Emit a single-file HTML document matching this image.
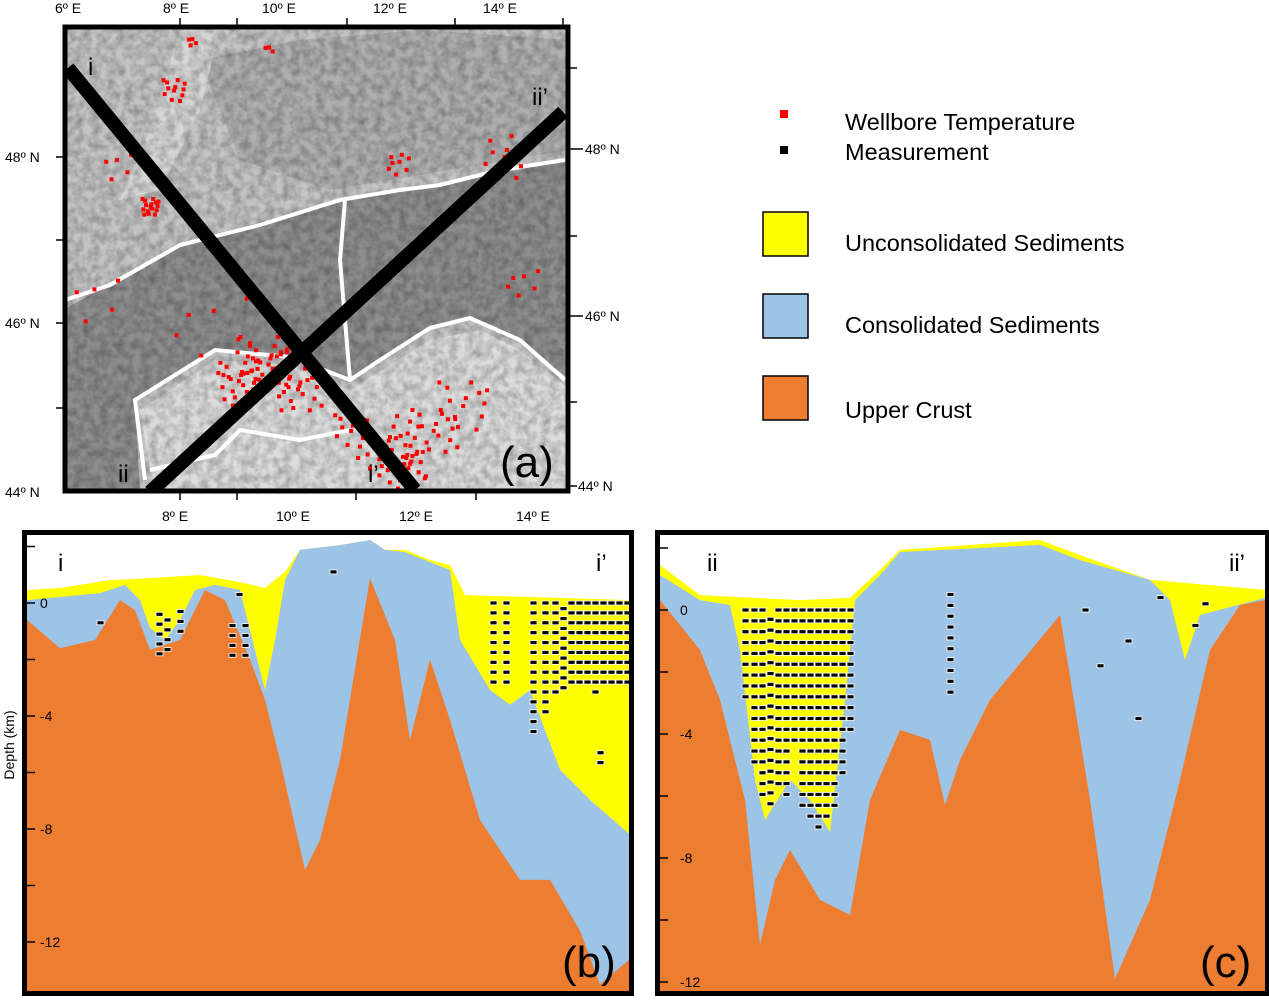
<!DOCTYPE html>
<html><head><meta charset="utf-8">
<style>
html,body{margin:0;padding:0;background:#fff;}
body{width:1269px;height:996px;overflow:hidden;font-family:"Liberation Sans",sans-serif;}
svg text{font-family:"Liberation Sans",sans-serif;}
</style></head>
<body>
<svg id="fig" width="1269" height="996" viewBox="0 0 1269 996" xmlns="http://www.w3.org/2000/svg">
<defs>
  <filter id="rough" x="0" y="0" width="100%" height="100%">
    <feTurbulence type="fractalNoise" baseFrequency="0.12" numOctaves="3" seed="4"/>
    <feColorMatrix type="matrix" values="0 0 0 0 0  0 0 0 0 0  0 0 0 0 0  0 0 0 -1.6 1.1"/>
  </filter>
  <clipPath id="mapclip"><rect x="63" y="25" width="507" height="468"/></clipPath>
  <clipPath id="bclip"><rect x="25" y="533" width="606" height="460"/></clipPath>
  <clipPath id="cclip"><rect x="658" y="533" width="609" height="460"/></clipPath>
</defs>

<!-- MAP PANEL -->
<g clip-path="url(#mapclip)">
  <rect x="63" y="25" width="507" height="468" fill="#c4c4c4"/>
  <polygon fill="#8e8e8e" points="63,310 180,245 340,200 440,185 570,160 570,380 520,340 470,318 430,330 380,360 350,380 290,355 215,350 135,400 140,493 63,493"/>
  <polygon fill="#afafaf" points="200,60 300,40 420,30 570,40 570,150 450,170 330,190 240,160"/>
  <polygon fill="#dcdcdc" points="150,470 140,410 215,360 290,365 350,390 430,340 480,330 520,350 570,390 570,493 160,493"/>
  <polygon fill="#d6d6d6" points="180,30 220,30 200,110 160,190 120,200 150,130"/>
  <rect x="63" y="25" width="507" height="468" filter="url(#rough)" opacity="0.3"/>
  <g fill="none" stroke="#fff" stroke-width="4">
    <polyline points="65,300 110,285 180,245 260,225 340,200 400,190 440,185 500,170 565,160"/>
    <polyline points="345,200 340,260 350,380"/>
    <polyline points="145,480 135,400 215,350 290,357 350,380 380,360 430,328 470,318 520,340 565,380"/>
    <polyline points="150,470 215,455 240,430 300,440 350,430"/>
  </g>
  <g id="mapdots"></g>
  <g stroke="#000" stroke-width="14">
    <line x1="68" y1="68" x2="415" y2="490"/>
    <line x1="150" y1="492" x2="563" y2="112"/>
  </g>
</g>
<rect x="65" y="27" width="503" height="464" fill="none" stroke="#000" stroke-width="5"/>
<g font-size="24" fill="#000">
  <text x="88" y="75">i</text>
  <text x="532" y="105">ii’</text>
  <text x="118" y="482">ii</text>
  <text x="368" y="482">i’</text>
</g>
<text x="500" y="477" font-size="44">(a)</text>
<g font-size="14" fill="#000">
  <text x="55" y="13">6º E</text>
  <text x="163" y="13">8º E</text>
  <text x="262" y="13">10º E</text>
  <text x="373" y="13">12º E</text>
  <text x="483" y="13">14º E</text>
  <text x="162" y="521">8º E</text>
  <text x="276" y="521">10º E</text>
  <text x="399" y="521">12º E</text>
  <text x="516" y="521">14º E</text>
  <text x="5" y="162">48º N</text>
  <text x="5" y="328">46º N</text>
  <text x="5" y="497">44º N</text>
  <text x="585" y="154">48º N</text>
  <text x="585" y="321">46º N</text>
  <text x="578" y="491">44º N</text>
</g>
<g stroke="#000" stroke-width="1.5">
  <line x1="180" y1="18" x2="180" y2="25"/><line x1="237" y1="18" x2="237" y2="25"/><line x1="347" y1="18" x2="347" y2="25"/><line x1="455" y1="18" x2="455" y2="25"/><line x1="563" y1="18" x2="563" y2="25"/>
  <line x1="180" y1="493" x2="180" y2="500"/><line x1="237" y1="493" x2="237" y2="500"/><line x1="356" y1="493" x2="356" y2="500"/><line x1="476" y1="493" x2="476" y2="500"/>
  <line x1="56" y1="157" x2="63" y2="157"/><line x1="56" y1="240" x2="63" y2="240"/><line x1="56" y1="323" x2="63" y2="323"/><line x1="56" y1="408" x2="63" y2="408"/>
  <line x1="570" y1="68" x2="577" y2="68"/><line x1="570" y1="149" x2="583" y2="149"/><line x1="570" y1="236" x2="577" y2="236"/><line x1="570" y1="316" x2="583" y2="316"/><line x1="570" y1="402" x2="577" y2="402"/><line x1="570" y1="486" x2="577" y2="486"/>
</g>

<!-- LEGEND -->
<g font-size="23.5" fill="#000">
  <rect x="780" y="110" width="8" height="8" fill="#f00"/>
  <rect x="780" y="146" width="8" height="8" fill="#000"/>
  <text x="845" y="130">Wellbore Temperature</text>
  <text x="845" y="160">Measurement</text>
  <rect x="763" y="212" width="45" height="44" fill="#ffff00" stroke="#000" stroke-width="1.5"/>
  <text x="845" y="251">Unconsolidated Sediments</text>
  <rect x="763" y="294" width="45" height="44" fill="#9dc3e6" stroke="#000" stroke-width="1.5"/>
  <text x="845" y="333">Consolidated Sediments</text>
  <rect x="763" y="376" width="45" height="44" fill="#ed7d31" stroke="#000" stroke-width="1.5"/>
  <text x="845" y="418">Upper Crust</text>
</g>

<!-- SECTION B -->
<g>
  <g id="secB" clip-path="url(#bclip)"></g>
  <rect x="24.5" y="532.5" width="607" height="461" fill="none" stroke="#000" stroke-width="5"/>
  <g id="ticksB"></g>
  <text x="58" y="571" font-size="24">i</text>
  <text x="596" y="571" font-size="24">i’</text>
  <text x="562" y="977" font-size="44">(b)</text>
  <text transform="translate(14,745) rotate(-90)" text-anchor="middle" font-size="14">Depth (km)</text>
</g>

<!-- SECTION C -->
<g>
  <g id="secC" clip-path="url(#cclip)"></g>
  <rect x="657.5" y="532.5" width="610" height="461" fill="none" stroke="#000" stroke-width="5"/>
  <g id="ticksC"></g>
  <text x="707" y="571" font-size="24">ii</text>
  <text x="1229" y="571" font-size="24">ii’</text>
  <text x="1200" y="977" font-size="44">(c)</text>
</g>
</svg>

<script>
// ---------- Section (b) data: distance (arbitrary km units) and depth (km, positive up)
const bYellowDist = [0,16.5,41.5,61.5,86.5,106.5,119,129,136.5,156.5,171.5,179,189,201.5,211.5,219,301.5];
const bYellowDepth = [0.46,0.53,0.81,0.88,0.99,0.74,0.53,1.1,1.88,2.05,2.23,1.88,1.88,1.52,1.35,0.28,0.1];
const bBlueDist = [0,36.5,49,56.5,61.5,69,76.5,84,94,106.5,111.5,119,124,129,136.5,156.5,171.5,179,189,201.5,211.5,216.5,231.5,241.5,251.5,259,266.5,281.5,301.5];
const bBlueDepth = [0.1,0.35,0.64,0.1,-0.88,-1.31,-0.6,0.46,0.64,0.46,-0.96,-3.08,-1.31,0.81,1.88,2.05,2.23,1.88,1.8,1.45,1.17,-1.31,-3.08,-3.6,-3.08,-4.5,-5.9,-6.97,-8.2];
const bCrustDist = [0,16.5,34,46.5,54,61.5,76.5,89,99,111.5,119,126.5,139,146.5,156.5,171.5,184,191.5,201.5,211.5,226.5,246.5,261.5,276.5,286.5,301.5];
const bCrustDepth = [-0.6,-1.6,-1.31,0.1,-0.25,-1.66,-1.31,0.46,0.1,-2.0,-3.43,-5.56,-9.45,-8.39,-5.56,0.88,-1.31,-4.85,-2.0,-4.14,-7.68,-9.8,-9.8,-11.6,-13.5,-12.6];
// wells: distance, top depth, bottom depth
const bWellDist = [36.5,66,70,76.5,102.5,106,109,153,233,239.5,253,259,264,268,272,276,280,284,288,292,296,300,286.5];
const bWellTop = [-0.7,-0.4,-0.6,-0.3,-0.8,0.3,-0.8,1.1,0,0,0,0,0,-0.2,0,0,0,0,0,0,0,0,-5.3];
const bWellBottom = [-1.0,-2.0,-1.8,-1.3,-2.0,0.3,-2.0,0.9,-3.0,-2.9,-4.7,-4.0,-3.2,-3.0,-3.1,-2.9,-3.0,-3.2,-3.0,-2.9,-3.0,-2.9,-5.9];

// ---------- Section (c) data
const cYellowDist = [0,20,70,95,110,120,190,210,245,302.5];
const cYellowDepth = [1.45,0.48,0.32,0.39,1.29,1.94,2.26,1.77,0.97,0.65];
const cBlueDist = [0,20,35,40,47.5,52.5,65,75,85,92.5,97.5,110,120,190,210,245,255,262.5,270,302.5];
const cBlueDepth = [1.13,0.32,0.16,-1.29,-5.48,-6.77,-5.48,-6.13,-7.16,-2.9,0.32,1.13,1.87,2.1,1.61,0.97,0.32,-1.61,-0.16,0.39];
const cCrustDist = [0,20,30,42.5,50,57.5,65,80,95,105,120,135,142.5,150,165,200,215,227.5,245,260,275,290,302.5];
const cCrustDepth = [0.32,-1.29,-2.9,-6.13,-10.8,-8.71,-7.74,-9.35,-9.84,-6.13,-3.87,-4.19,-6.29,-4.84,-2.9,-0.16,-6.13,-11.9,-9.35,-5.48,-1.29,0.16,0.32];
const cWellDist = [42.5,47,51,55,59,63,67,71,75,79,83,87,91,95,145,212.5,220,234,239,250,267.5,272.5];
const cWellTop = [0,0,0,-0.3,0,0,0,0,0,0,0,0,0,0,0.5,0,-1.8,-1,-3.5,0.4,-0.5,0.2];
const cWellBottom = [-3.0,-5.2,-6.0,-6.3,-5.8,-6.0,-4.5,-6.3,-6.8,-7.0,-6.8,-6.5,-5.5,-4.0,-2.8,0,-1.8,-1,-3.5,0.4,-0.8,0.2];

// ---------- Map wellbore cluster data (lon, lat, count, spread in degrees)
const clusterLon = [7.5,7.9,6.9,9.5,9.0,10.0,11.5,11.8,12.3,12.8,11.7,13.5,9.5,13.8,8.5,6.5,8.2,10.9];
const clusterLat = [47.4,48.8,47.9,45.5,45.3,45.2,44.5,44.3,44.7,45.0,47.9,48.0,49.3,46.5,46.0,46.3,49.4,44.7];
const clusterCount = [16,12,5,40,24,20,30,24,18,14,8,10,3,6,6,5,4,12];
const clusterSpread = [0.15,0.2,0.3,0.35,0.35,0.4,0.4,0.35,0.4,0.45,0.2,0.4,0.1,0.3,0.7,0.5,0.1,0.3];
const offsetPattern = [[0.1,0.3],[-0.5,0.2],[0.7,-0.4],[-0.2,-0.8],[0.9,0.6],[-0.8,-0.3],[0.3,0.9],[-0.6,0.7],[0.5,-0.9],[0.0,0.0],[-0.9,0.9],[0.8,0.1],[-0.3,-0.5],[0.6,0.5],[-0.7,-0.9],[0.2,-0.2],[1.0,-0.7],[-1.0,0.4],[0.4,0.4],[-0.4,0.1]];

const NS = "http://www.w3.org/2000/svg";
function mk(tag, attrs, parent){const e=document.createElementNS(NS,tag);for(const k in attrs)e.setAttribute(k,attrs[k]);parent.appendChild(e);return e;}

function drawSection(g, xs, ys, yellow, blue, crust, wells, axisX, ticksG, labelX, topY, botY){
  const X=d=>xs(d), Y=z=>ys(z);
  const poly=(dist,dep,fill,name)=>{
    let pts=dist.map((d,i)=>X(d)+","+Y(dep[i])).join(" ");
    pts+=" "+X(dist[dist.length-1])+","+botY+" "+X(dist[0])+","+botY;
    const p=mk("polygon",{points:pts,fill:fill},g);
    
    
  };
  poly(yellow[0],yellow[1],"#ffff00","unconsolidated-sediments");
  poly(blue[0],blue[1],"#9dc3e6","consolidated-sediments");
  poly(crust[0],crust[1],"#ed7d31","upper-crust");
  const wg=mk("g",{},g);
  
  
  wells[0].forEach((d,i)=>{
    for(let z=wells[1][i]; z>=wells[2][i]-0.001; z-=0.35){
      const r=mk("rect",{x:X(d)-3,y:Y(z)-2,width:7,height:4,fill:"#000",stroke:"#fff","stroke-width":0.8},wg);
      
      
      if(wells[1][i]===wells[2][i])break;
    }
  });
  for(let z=2; z>=-12; z-=2){
    const t=mk("line",{x1:axisX,y1:Y(z),x2:axisX+8,y2:Y(z),stroke:"#000","stroke-width":1.5},ticksG);
    
    
    if(z%4===0 && z<=0){
      const tx=mk("text",{x:labelX,y:Y(z)+5,"font-size":14},ticksG);
      tx.textContent=String(z);
      
      
    }
  }
}

drawSection(document.getElementById("secB"), d=>27+2*d, z=>603-28.25*z,
  [bYellowDist,bYellowDepth],[bBlueDist,bBlueDepth],[bCrustDist,bCrustDepth],[bWellDist,bWellTop,bWellBottom],
  27, document.getElementById("ticksB"), 40, 533, 995);
drawSection(document.getElementById("secC"), d=>660+2*d, z=>610-31*z,
  [cYellowDist,cYellowDepth],[cBlueDist,cBlueDepth],[cCrustDist,cCrustDepth],[cWellDist,cWellTop,cWellBottom],
  660, document.getElementById("ticksC"), 680, 533, 995);

// map dots
const lonX=lon=>180+(lon-8)*59, latY=lat=>157-(lat-48)*83;
const mg=document.getElementById("mapdots");
clusterLon.forEach((lon,i)=>{
  for(let k=0;k<clusterCount[i];k++){
    const o=offsetPattern[k%offsetPattern.length], s=clusterSpread[i]*(1+Math.floor(k/offsetPattern.length)*0.5);
    const r=mk("rect",{x:lonX(lon+o[0]*s)-2,y:latY(clusterLat[i]+o[1]*s*0.7)-2,width:4,height:4,fill:"#f00"},mg);
    
    
  }
});
</script>
</body></html>
